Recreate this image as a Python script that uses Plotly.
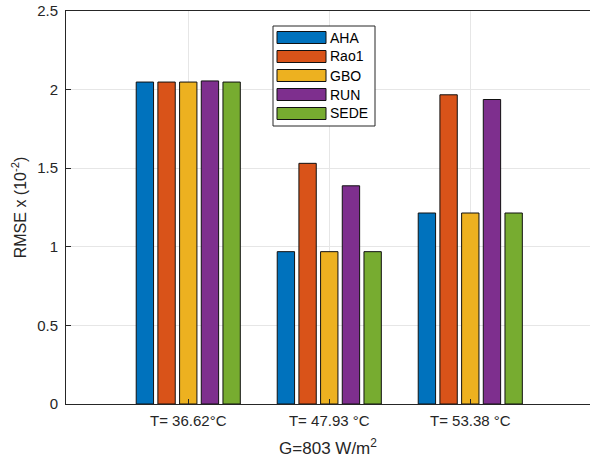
import plotly.graph_objects as go

categories = ["T= 36.62°C", "T= 47.93 °C", "T= 53.38 °C"]
cat_pos = [1, 2, 3]
series_names = ["AHA", "Rao1", "GBO", "RUN", "SEDE"]
aha = [2.048, 0.969, 1.215]
rao1 = [2.048, 1.531, 1.967]
gbo = [2.048, 0.969, 1.215]
run = [2.055, 1.388, 1.937]
sede = [2.048, 0.969, 1.215]
series_values = [aha, rao1, gbo, run, sede]
colors = ["#0072BD", "#D95319", "#EDB120", "#7E2F8E", "#77AC30"]
y_ticks = [0, 0.5, 1, 1.5, 2, 2.5]
y_ticklabels = ["0", "0.5", "1", "1.5", "2", "2.5"]

W, H = 590, 458
L, R, T, B = 66, 0, 11, 54
pw, ph = W - L - R, H - T - B

font_family = "Liberation Sans, Arial, Helvetica, sans-serif"
axis_col = "#262626"

fig = go.Figure()
for name, vals, col in zip(series_names, series_values, colors):
    fig.add_trace(go.Bar(
        x=cat_pos, y=vals, name=name,
        marker=dict(color=col, line=dict(color="#111111", width=1)),
        showlegend=False,
    ))

def px_x(p):
    return (p - L) / pw

def px_y(p):
    return (H - B - p) / ph

shapes = []
annotations = []
# custom MATLAB-like legend
box = dict(x0=273, x1=375, y0=26, y1=126)
shapes.append(dict(type="rect", xref="paper", yref="paper",
                   x0=px_x(box["x0"]), x1=px_x(box["x1"]),
                   y0=px_y(box["y1"]), y1=px_y(box["y0"]),
                   fillcolor="white", line=dict(color=axis_col, width=1), layer="above"))
row0, pitch = 37.5, 19
for i, (name, col) in enumerate(zip(series_names, colors)):
    cy = row0 + i * pitch
    shapes.append(dict(type="rect", xref="paper", yref="paper",
                       x0=px_x(277), x1=px_x(326),
                       y0=px_y(cy + 6), y1=px_y(cy - 6),
                       fillcolor=col, line=dict(color="#111111", width=1), layer="above"))
    annotations.append(dict(xref="paper", yref="paper", x=px_x(328), y=px_y(cy),
                            text=name, showarrow=False, xanchor="left", yanchor="middle",
                            font=dict(family=font_family, size=14, color="#000000")))

fig.update_layout(
    width=W, height=H,
    margin=dict(l=L, r=R, t=T, b=B, autoexpand=False),
    paper_bgcolor="white", plot_bgcolor="white",
    barmode="group", bargap=0.231, bargroupgap=0.2,
    font=dict(family=font_family, size=15, color=axis_col),
    shapes=shapes, annotations=annotations,
    showlegend=False,
)
fig.update_xaxes(
    automargin=False,
    range=[0.133, 3.849],
    tickmode="array", tickvals=cat_pos, ticktext=categories,
    ticks="inside", ticklen=5, tickcolor=axis_col,
    ticklabelstandoff=3,
    showline=True, linecolor=axis_col, linewidth=1, mirror=True,
    showgrid=True, gridcolor="#e6e6e6", gridwidth=1,
    zeroline=False,
    tickfont=dict(size=15, color=axis_col),
    title=dict(text="G=803 W/m<sup>2</sup>", font=dict(size=17, color=axis_col), standoff=16),
)
fig.update_yaxes(
    automargin=False,
    range=[0, 2.5],
    tickmode="array", tickvals=y_ticks, ticktext=y_ticklabels,
    ticks="inside", ticklen=5, tickcolor=axis_col,
    ticklabelstandoff=4,
    showline=True, linecolor=axis_col, linewidth=1, mirror=False,
    showgrid=True, gridcolor="#e6e6e6", gridwidth=1,
    zeroline=False,
    tickfont=dict(size=15, color=axis_col),
    title=dict(text="RMSE x (10<sup>-2</sup>)", font=dict(size=16, color=axis_col), standoff=6),
)

fig.write_html("out.html", config={"displayModeBar": False},
               post_script="document.body.style.margin='0';")
